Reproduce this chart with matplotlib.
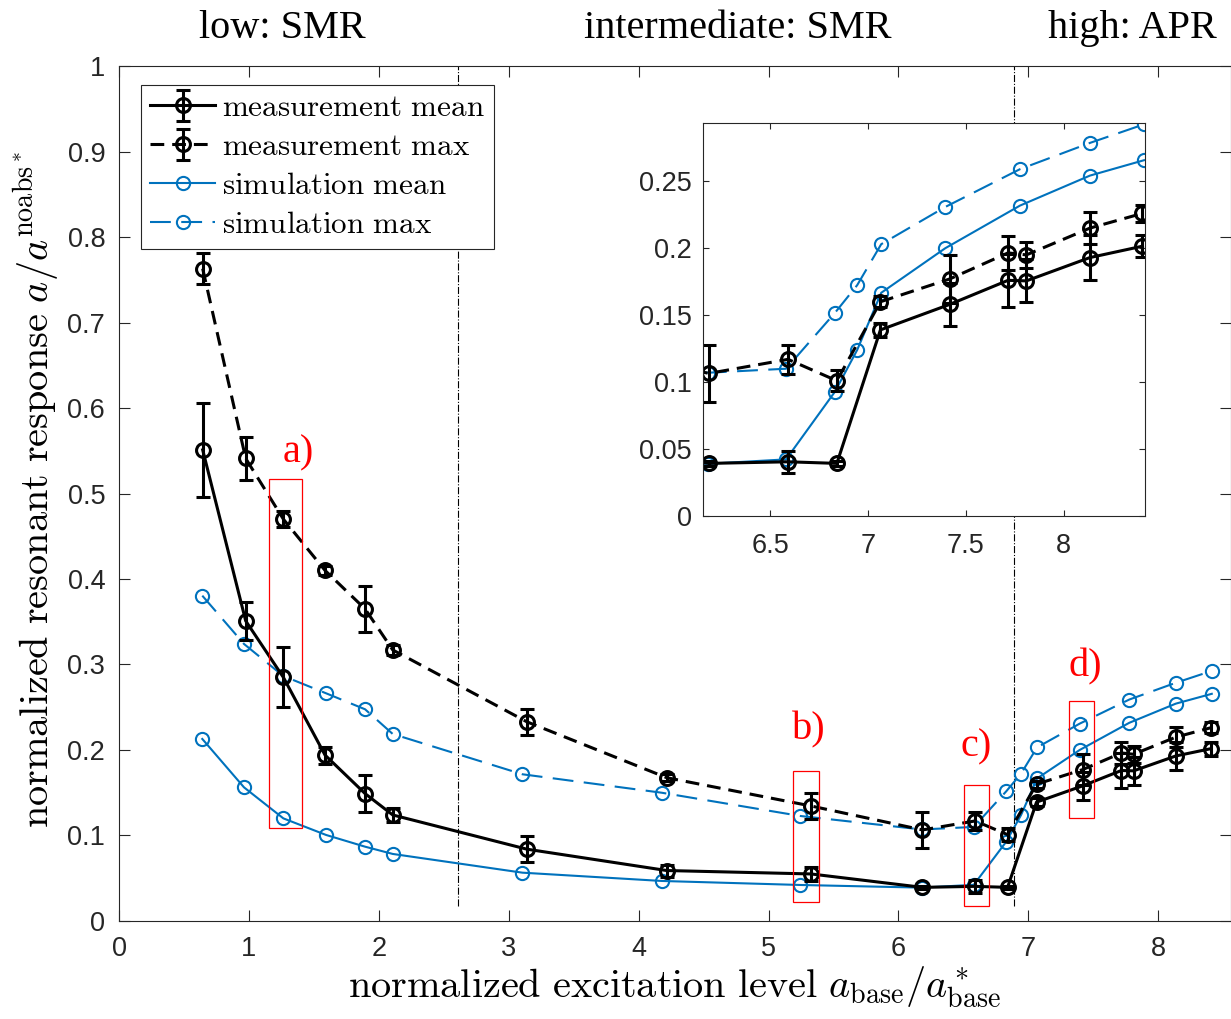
import matplotlib
matplotlib.use('Agg')
import matplotlib.pyplot as plt
from matplotlib.patches import Rectangle

# Measurement points (x and response), with error bar half-widths
x_meas = [0.644, 0.975, 1.265, 1.586, 1.894, 2.107, 3.139, 4.216, 5.327,
          6.185, 6.59, 6.84, 7.063, 7.417, 7.716, 7.81, 8.135, 8.404]
meas_mean = [0.551, 0.351, 0.285, 0.194, 0.149, 0.124, 0.084, 0.059, 0.055,
             0.0393, 0.0405, 0.0393, 0.139, 0.158, 0.176, 0.1756, 0.193, 0.2015]
meas_mean_err = [0.055, 0.022, 0.035, 0.010, 0.022, 0.008, 0.015, 0.007, 0.008,
                 0.002, 0.008, 0.002, 0.005, 0.016, 0.020, 0.016, 0.0165, 0.008]
meas_max = [0.763, 0.541, 0.470, 0.410, 0.365, 0.317, 0.233, 0.1676, 0.1345,
            0.1065, 0.117, 0.101, 0.160, 0.177, 0.1965, 0.195, 0.215, 0.226]
meas_max_err = [0.018, 0.025, 0.0095, 0.005, 0.027, 0.006, 0.015, 0.004, 0.015,
                0.0215, 0.0106, 0.008, 0.004, 0.018, 0.0125, 0.010, 0.012, 0.0065]

# Simulation points
x_sim = [0.641, 0.962, 1.265, 1.594, 1.894, 2.107, 3.105, 4.178, 5.245,
         6.18, 6.58, 6.83, 6.944, 7.067, 7.395, 7.777, 8.135, 8.412]
sim_mean = [0.2129, 0.1563, 0.120, 0.1006, 0.0869, 0.0784, 0.0565, 0.0468, 0.0421,
            0.0390, 0.0423, 0.0928, 0.124, 0.1667, 0.200, 0.2318, 0.2542, 0.2657]
sim_max = [0.3805, 0.324, 0.2865, 0.2663, 0.2476, 0.2187, 0.1716, 0.150, 0.1228,
           0.107, 0.110, 0.1517, 0.1724, 0.203, 0.2308, 0.259, 0.2786, 0.2925]

# Regime borders and regime names
regime_borders = [2.607, 6.89]
regime_names = ['low: SMR', 'intermediate: SMR', 'high: APR']

# Highlighted cases: label, x0, x1, y0, y1, label position
case_labels = ['a)', 'b)', 'c)', 'd)']
case_x = [(1.157, 1.406), (5.191, 5.386), (6.505, 6.698), (7.313, 7.506)]
case_y = [(0.1083, 0.5165), (0.0225, 0.1758), (0.0178, 0.1594), (0.1204, 0.2569)]
case_text_pos = [(1.38, 0.547), (5.306, 0.2234), (6.597, 0.2039), (7.436, 0.2974)]

plt.rcParams['font.family'] = ['Liberation Serif', 'DejaVu Serif']
plt.rcParams['mathtext.fontset'] = 'cm'

blue = '#0072BD'
gray = '#262626'
tick_font = 'Liberation Sans'


def draw_series(ax):
    # Simulation curves
    h_sm, = ax.plot(x_sim, sim_mean, '-o', color=blue, lw=1.5, ms=9.5,
                    mfc='none', mew=1.5, label=r'$\mathrm{simulation\ mean}$')
    h_sx, = ax.plot(x_sim, sim_max, '--o', color=blue, lw=1.5, ms=9.5,
                    mfc='none', mew=1.5, label=r'$\mathrm{simulation\ max}$')
    h_sx.set_dashes((10, 5))

    # Measurement curves with error bars
    h_mm = ax.errorbar(x_meas, meas_mean, yerr=meas_mean_err, fmt='-o', color='k',
                       lw=2.2, ms=10, mfc='none', mew=2.2, capsize=5, capthick=2.2,
                       elinewidth=2.2, label=r'$\mathrm{measurement\ mean}$')
    h_mx = ax.errorbar(x_meas, meas_max, yerr=meas_max_err, fmt='--o', color='k',
                       lw=2.2, ms=10, mfc='none', mew=2.2, capsize=5, capthick=2.2,
                       elinewidth=2.2, label=r'$\mathrm{measurement\ max}$')
    h_mx[0].set_dashes((4.5, 2.6))
    return [h_mm, h_mx, h_sm, h_sx]


def style_axes(ax, ticklen):
    for sp in ax.spines.values():
        sp.set_color(gray)
        sp.set_linewidth(0.8)
    ax.tick_params(direction='in', top=True, right=True, length=ticklen, width=0.8,
                   color=gray, labelcolor=gray, labelsize=19.5,
                   labelfontfamily=tick_font)


fig = plt.figure(figsize=(12.31, 10.19), dpi=100)

# Main axes
ax = fig.add_axes([0.0967, 0.0962, 0.9033, 0.839])
handles = draw_series(ax)
ax.set_xlim(0, 8.56)
ax.set_ylim(0, 1)
ax.set_xticks(range(0, 9))
ax.set_yticks([i / 10 for i in range(11)])
ax.set_yticklabels([f'{i / 10:g}' for i in range(11)])
style_axes(ax, 8)
ax.tick_params(axis='x', pad=11)
ax.tick_params(axis='y', pad=10)

for xb in regime_borders:
    ax.plot([xb, xb], [0.017, 1.0], color='k', lw=0.8, ls='-.', zorder=1)

for lab, (x0, x1), (y0, y1), (tx, ty) in zip(case_labels, case_x, case_y, case_text_pos):
    ax.add_patch(Rectangle((x0, y0), x1 - x0, y1 - y0, fill=False,
                           edgecolor='red', lw=0.9, zorder=5))
    ax.text(tx, ty, lab, color='red', fontsize=29, ha='center', va='center')

ax.set_xlabel(r'$\mathrm{normalized\ excitation\ level}\ a_{\rm base}/a^*_{\rm base}$',
              fontsize=29)
ax.xaxis.set_label_coords(0.5, -0.051)
ax.set_ylabel(r'$\mathrm{normalized\ resonant\ response}\ a/a^{\rm noabs^*}$', fontsize=29)
ax.yaxis.set_label_coords(-0.052, 0.505)

leg = ax.legend(handles=handles, loc='upper left', bbox_to_anchor=(0.0195, 0.978),
                borderaxespad=0, fontsize=22.4, fancybox=False, framealpha=1,
                edgecolor=gray, handlelength=2.1, handletextpad=0.2,
                labelspacing=0.32, borderpad=0.3)
leg.get_frame().set_linewidth(0.8)
leg.set_zorder(10)

# Regime names above the axes
for name, fx in zip(regime_names, [0.229, 0.5995, 0.9196]):
    fig.text(fx, 0.9725, name, fontsize=29, ha='center', va='center')

# Inset zoom on the high excitation region
ax_in = fig.add_axes([0.5711, 0.4936, 0.3587, 0.3857])
draw_series(ax_in)
ax_in.set_xlim(6.155, 8.415)
ax_in.set_ylim(0, 0.2935)
ax_in.set_xticks([6.5, 7, 7.5, 8])
ax_in.set_xticklabels(['6.5', '7', '7.5', '8'])
ax_in.set_yticks([0, 0.05, 0.1, 0.15, 0.2, 0.25])
ax_in.set_yticklabels(['0', '0.05', '0.1', '0.15', '0.2', '0.25'])
style_axes(ax_in, 4)
ax_in.tick_params(axis='x', pad=12)
ax_in.tick_params(axis='y', pad=8)

fig.savefig('out.png', dpi=100)
